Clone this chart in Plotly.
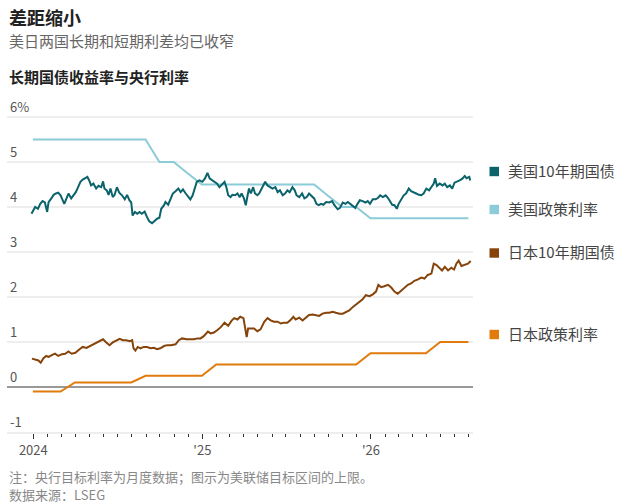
import pandas as pd
import plotly.graph_objects as go

# 美国10年期国债收益率（距2024-01-01的天数, 收益率%）
us10y_day = [-4, 4, 10, 15, 20, 25, 30, 33, 39, 44, 49, 54, 59, 63, 67, 73, 76, 82, 87, 92,
             96, 102, 107, 112, 117, 121, 125, 130, 136, 141, 147, 151, 154, 159, 163, 167, 172, 176, 181, 186,
             192, 198, 203, 208, 212, 215, 220, 225, 230, 235, 241, 246, 251, 257, 263, 268, 273, 277, 283, 286,
             292, 297, 302, 308, 314, 319, 324, 330, 335, 340, 345, 350, 354, 360, 366, 372, 377, 382, 387, 393,
             398, 403, 409, 414, 418, 422, 427, 431, 437, 442, 447, 451, 456, 460, 464, 467, 471, 476, 480, 485,
             489, 493, 498, 502, 507, 512, 518, 524, 529, 534, 540, 545, 550, 555, 561, 566, 570, 576, 582, 587,
             592, 597, 603, 608, 613, 618, 623, 628, 634, 641, 647, 652, 659, 664, 670, 676, 681, 686, 692, 697,
             702, 707, 713, 719, 724, 729, 735, 741, 746, 751, 757, 763, 768, 773, 777, 782, 787, 791, 797, 802,
             807, 813, 818, 823, 829, 835, 840, 845, 851, 857, 862, 867, 870, 874, 880, 886, 891, 896, 902, 907,
             912, 917, 923, 929, 934, 938, 944, 946]
us10y = [3.85, 4.00, 3.96, 4.07, 4.13, 4.10, 3.89, 4.11, 4.19, 4.27, 4.30, 4.32, 4.26, 4.15, 4.07, 4.22, 4.30, 4.19, 4.26, 4.33,
         4.42, 4.56, 4.61, 4.64, 4.67, 4.59, 4.48, 4.52, 4.41, 4.47, 4.44, 4.57, 4.41, 4.37, 4.27, 4.41, 4.22, 4.27, 4.44, 4.32,
         4.26, 4.17, 4.27, 4.15, 4.10, 3.81, 3.89, 3.85, 3.89, 3.85, 3.90, 3.78, 3.68, 3.64, 3.70, 3.74, 3.76, 3.96, 4.04, 4.11,
         4.05, 4.19, 4.30, 4.35, 4.41, 4.33, 4.39, 4.30, 4.22, 4.17, 4.26, 4.44, 4.56, 4.59, 4.56, 4.64, 4.76, 4.63, 4.59, 4.54,
         4.52, 4.44, 4.52, 4.56, 4.44, 4.26, 4.22, 4.27, 4.26, 4.30, 4.22, 4.30, 4.19, 4.04, 4.26, 4.41, 4.30, 4.44, 4.30, 4.26,
         4.30, 4.37, 4.48, 4.56, 4.48, 4.44, 4.41, 4.44, 4.33, 4.37, 4.26, 4.30, 4.37, 4.33, 4.44, 4.37, 4.26, 4.22, 4.30, 4.19,
         4.22, 4.30, 4.24, 4.19, 4.07, 4.04, 4.07, 4.05, 4.11, 4.10, 4.13, 4.04, 3.95, 3.98, 4.10, 4.07, 4.11, 4.07, 4.04, 3.98,
         4.07, 4.15, 4.13, 4.10, 4.13, 4.07, 4.17, 4.17, 4.20, 4.26, 4.22, 4.26, 4.20, 4.10, 4.05, 4.04, 3.96, 4.07, 4.17, 4.26,
         4.30, 4.41, 4.35, 4.32, 4.30, 4.27, 4.26, 4.30, 4.41, 4.37, 4.44, 4.52, 4.64, 4.47, 4.52, 4.48, 4.52, 4.44, 4.48, 4.41,
         4.54, 4.56, 4.59, 4.63, 4.69, 4.64, 4.67, 4.59]

# 日本10年期国债收益率
jp10y_day = [-3, 4, 11, 16, 22, 28, 33, 40, 47, 54, 62, 69, 76, 83, 91, 100, 107, 115, 122, 129,
             138, 145, 151, 158, 165, 172, 180, 187, 194, 201, 209, 214, 217, 221, 226, 232, 239, 246, 254, 261,
             268, 275, 283, 290, 298, 308, 315, 322, 332, 340, 348, 355, 362, 369, 378, 384, 391, 398, 406, 414,
             422, 429, 435, 442, 448, 455, 459, 462, 465, 471, 478, 485, 492, 500, 507, 514, 521, 529, 536, 543,
             550, 558, 563, 568, 576, 583, 590, 597, 605, 612, 619, 626, 634, 641, 648, 655, 663, 670, 677, 684,
             692, 699, 706, 713, 720, 728, 735, 742, 747, 753, 760, 768, 775, 782, 789, 796, 804, 811, 818, 825,
             833, 840, 847, 854, 862, 867, 873, 880, 885, 891, 898, 905, 911, 916, 921, 927, 934, 941, 947]
jp10y = [0.63, 0.61, 0.59, 0.54, 0.64, 0.69, 0.67, 0.71, 0.74, 0.69, 0.73, 0.74, 0.79, 0.74, 0.76, 0.84, 0.89, 0.87, 0.91, 0.95,
         1.00, 1.04, 1.06, 0.99, 0.93, 0.99, 1.04, 1.07, 1.04, 1.04, 1.02, 1.04, 0.86, 0.81, 0.89, 0.86, 0.89, 0.89, 0.86, 0.87,
         0.84, 0.86, 0.91, 0.93, 0.93, 0.95, 1.04, 1.08, 1.06, 1.06, 1.06, 1.08, 1.08, 1.13, 1.23, 1.19, 1.21, 1.26, 1.33, 1.43,
         1.36, 1.47, 1.53, 1.50, 1.56, 1.53, 1.30, 1.11, 1.30, 1.30, 1.30, 1.24, 1.28, 1.45, 1.53, 1.48, 1.45, 1.45, 1.41, 1.43,
         1.43, 1.50, 1.56, 1.50, 1.54, 1.48, 1.53, 1.60, 1.61, 1.60, 1.58, 1.63, 1.65, 1.65, 1.67, 1.65, 1.63, 1.63, 1.67, 1.70,
         1.78, 1.84, 1.91, 1.95, 2.04, 2.02, 2.06, 2.12, 2.27, 2.22, 2.24, 2.27, 2.21, 2.12, 2.07, 2.13, 2.21, 2.27, 2.30, 2.36,
         2.39, 2.43, 2.41, 2.49, 2.52, 2.74, 2.71, 2.65, 2.59, 2.67, 2.59, 2.65, 2.61, 2.74, 2.81, 2.69, 2.71, 2.74, 2.80]

# 央行目标利率（月度，月末）
policy_dates = ["2023-12-31", "2024-01-31", "2024-02-29", "2024-03-31", "2024-04-30", "2024-05-31",
                "2024-06-30", "2024-07-31", "2024-08-31", "2024-09-30", "2024-10-31", "2024-11-30",
                "2024-12-31", "2025-01-31", "2025-02-28", "2025-03-31", "2025-04-30", "2025-05-31",
                "2025-06-30", "2025-07-31", "2025-08-31", "2025-09-30", "2025-10-31", "2025-11-30",
                "2025-12-31", "2026-01-31", "2026-02-28", "2026-03-31", "2026-04-30", "2026-05-31",
                "2026-06-30", "2026-07-31"]
us_policy = [5.5, 5.5, 5.5, 5.5, 5.5, 5.5, 5.5, 5.5, 5.5, 5.0, 5.0, 4.75, 4.5, 4.5, 4.5, 4.5,
             4.5, 4.5, 4.5, 4.5, 4.5, 4.25, 4.0, 4.0, 3.75, 3.75, 3.75, 3.75, 3.75, 3.75, 3.75, 3.75]
jp_policy = [-0.1, -0.1, -0.1, 0.1, 0.1, 0.1, 0.1, 0.1, 0.25, 0.25, 0.25, 0.25, 0.25, 0.5, 0.5, 0.5,
             0.5, 0.5, 0.5, 0.5, 0.5, 0.5, 0.5, 0.5, 0.75, 0.75, 0.75, 0.75, 0.75, 1.0, 1.0, 1.0]

series_names = ["美国10年期国债", "美国政策利率", "日本10年期国债", "日本政策利率"]
series_colors = ["#0b636b", "#8ccbd8", "#86430a", "#e07b0c"]

y_tickvals = [-1, 0, 1, 2, 3, 4, 5, 6]
y_ticktext = ["-1", "0", "1", "2", "3", "4", "5", "6%"]
x_tickvals = ["2024-01-01", "2025-01-01", "2026-01-01"]
x_ticktext = ["2024", "'25", "'26"]

FONT = "Noto Sans CJK SC"
W, H = 628, 504
ML, MR, MT, MB = 7, 155, 90, 72
PW, PH = W - ML - MR, H - MT - MB


def px_x(px):
    return (px - ML) / PW


def px_y(py):
    return (H - MB - py) / PH


base = pd.Timestamp("2024-01-01")
us10y_dates = base + pd.to_timedelta(us10y_day, unit="D")
jp10y_dates = base + pd.to_timedelta(jp10y_day, unit="D")

fig = go.Figure()
fig.add_trace(go.Scatter(x=policy_dates, y=us_policy, mode="lines",
                         line=dict(color=series_colors[1], width=2), name=series_names[1]))
fig.add_trace(go.Scatter(x=us10y_dates, y=us10y, mode="lines",
                         line=dict(color=series_colors[0], width=2), name=series_names[0]))
fig.add_trace(go.Scatter(x=policy_dates, y=jp_policy, mode="lines",
                         line=dict(color=series_colors[3], width=2), name=series_names[3]))
fig.add_trace(go.Scatter(x=jp10y_dates, y=jp10y, mode="lines",
                         line=dict(color=series_colors[2], width=2), name=series_names[2]))

# 右侧标签（色块 + 文字）
label_py = [171.5, 209.5, 253, 334.5]
for name, color, py in zip(series_names, series_colors, label_py):
    fig.add_shape(type="rect", xref="paper", yref="paper",
                  x0=px_x(489.5), x1=px_x(499), y0=px_y(py + 4.7), y1=px_y(py - 4.7),
                  fillcolor=color, line=dict(width=0))
    fig.add_annotation(xref="paper", yref="paper", x=px_x(506), y=px_y(py - 1.5),
                       xanchor="left", yanchor="middle", text=name, showarrow=False,
                       font=dict(family=FONT, size=15, color="#444"))

# 标题、副标题、图表标题
fig.add_annotation(xref="paper", yref="paper", x=px_x(7), y=px_y(17), xanchor="left", yanchor="middle",
                   text="<b>差距缩小</b>", showarrow=False, font=dict(family=FONT, size=18, color="#222"))
fig.add_annotation(xref="paper", yref="paper", x=px_x(7), y=px_y(40), xanchor="left", yanchor="middle",
                   text="美日两国长期和短期利差均已收窄", showarrow=False, font=dict(family=FONT, size=15, color="#666"))
fig.add_annotation(xref="paper", yref="paper", x=px_x(7), y=px_y(76.5), xanchor="left", yanchor="middle",
                   text="<b>长期国债收益率与央行利率</b>", showarrow=False, font=dict(family=FONT, size=15, color="#222"))
# 注释和来源
fig.add_annotation(xref="paper", yref="paper", x=px_x(7), y=px_y(476.5), xanchor="left", yanchor="middle",
                   text="注：央行目标利率为月度数据；图示为美联储目标区间的上限。", showarrow=False,
                   font=dict(family=FONT, size=13, color="#888"))
fig.add_annotation(xref="paper", yref="paper", x=px_x(7), y=px_y(494.5), xanchor="left", yanchor="middle",
                   text="数据来源：LSEG", showarrow=False, font=dict(family=FONT, size=13, color="#888"))

fig.update_layout(
    width=W, height=H,
    margin=dict(l=ML, r=MR, t=MT, b=MB),
    paper_bgcolor="white", plot_bgcolor="white",
    showlegend=False,
    font=dict(family=FONT, size=13, color="#666"),
    xaxis=dict(
        type="date", range=["2023-11-05", "2026-08-10"],
        tickmode="array", tickvals=x_tickvals, ticktext=x_ticktext,
        ticks="outside", ticklen=5, tickcolor="#333", tickwidth=1,
        showgrid=False, zeroline=False,
        showline=True, linecolor="#eeeeee", linewidth=2,
        tickfont=dict(family=FONT, size=13, color="#555"),
        minor=dict(tick0="2024-01-01", dtick="M1", ticks="outside", ticklen=3,
                   tickcolor="#333", tickwidth=1, showgrid=False),
    ),
    yaxis=dict(
        range=[-1, 6.6], tickmode="array", tickvals=y_tickvals, ticktext=y_ticktext,
        ticklabelposition="inside top", ticks="", showline=False,
        showgrid=True, gridcolor="#eeeeee", gridwidth=2,
        zeroline=True, zerolinecolor="#999999", zerolinewidth=2,
        tickfont=dict(family=FONT, size=13, color="#555"),
    ),
)

# 页面默认有8px边距，去掉以免图形偏移
fig.write_html("out.html", config={"displayModeBar": False},
               post_script="document.body.style.margin='0';")
